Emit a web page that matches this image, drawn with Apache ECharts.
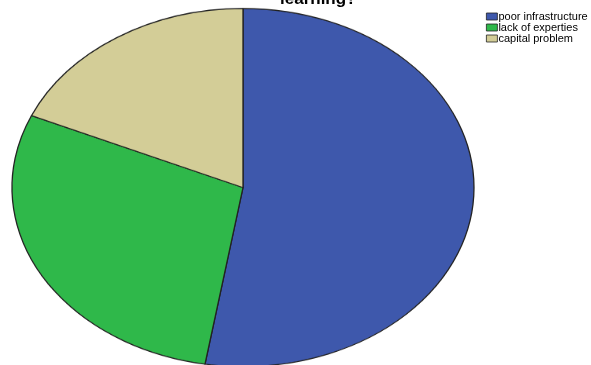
<!DOCTYPE html>
<html>
<head>
<meta charset="utf-8">
<script src="https://cdn.jsdelivr.net/npm/echarts@6/dist/echarts.min.js"></script>
<style>
html,body{margin:0;padding:0;background:#fff;overflow:hidden;}
#wrap{position:relative;width:591px;height:365px;overflow:hidden;}
#pie{position:absolute;left:0;top:0;width:591px;height:471px;transform:scaleY(0.775);transform-origin:0 0;}
#over{position:absolute;left:0;top:0;width:591px;height:365px;}
</style>
</head>
<body>
<div id="wrap"><div id="pie"></div><div id="over"></div></div>
<script>
var titleText = 'learning?';
var categories = ['poor infrastructure', 'lack of experties', 'capital problem'];
var counts = [20, 11, 7];
var colors = ['#3e58ac', '#2fb84a', '#d3cd97'];

var data = categories.map(function (c, i) {
  return { name: c, value: counts[i], itemStyle: { color: colors[i] } };
});

var pie = echarts.init(document.getElementById('pie'), null, { renderer: 'canvas' });
pie.setOption({
  animation: false,
  series: [{
    type: 'pie',
    center: [243, 242],
    radius: [0, 231],
    startAngle: 90,
    clockwise: true,
    label: { show: false },
    labelLine: { show: false },
    emphasis: { disabled: true },
    itemStyle: { borderColor: '#222', borderWidth: 1.3 },
    data: data
  }]
});

var over = echarts.init(document.getElementById('over'), null, { renderer: 'canvas' });
over.setOption({
  animation: false,
  title: {
    text: titleText,
    left: 280,
    top: -9.5,
    padding: 0,
    textStyle: { fontFamily: 'Liberation Sans, Arial', fontWeight: 'bold', fontSize: 17, color: '#000' }
  },
  legend: {
    orient: 'vertical',
    left: 486,
    top: 11,
    padding: 0,
    itemWidth: 11,
    itemHeight: 7,
    itemGap: 0,
    icon: 'rect',
    selectedMode: false,
    itemStyle: { borderColor: '#222', borderWidth: 0.8 },
    textStyle: { fontFamily: 'Liberation Sans, Arial', fontSize: 11, color: '#000', padding: [0, 0, 0, -4], lineHeight: 10 },
    data: categories
  },
  series: [{
    type: 'pie',
    center: [243, 187],
    radius: [0, 0],
    silent: true,
    label: { show: false },
    labelLine: { show: false },
    data: data
  }]
});
</script>
</body>
</html>
